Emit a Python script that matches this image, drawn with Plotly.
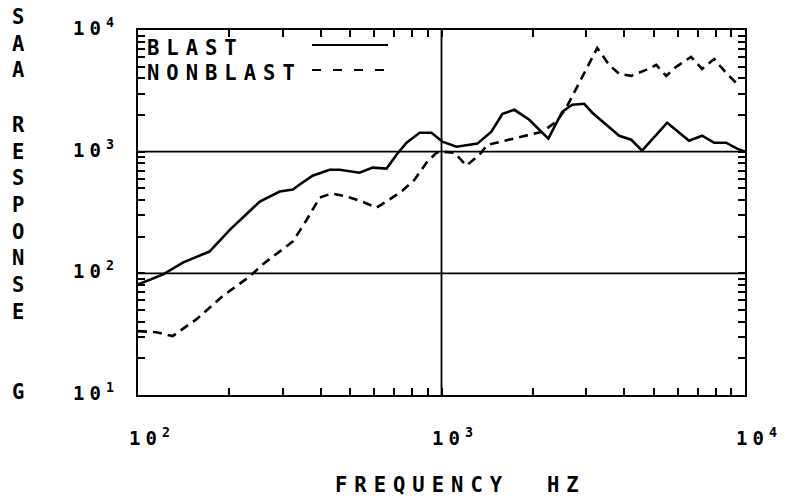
import math
import plotly.graph_objects as go

# ---- data ----
blast_f = [100, 121, 141, 172, 201, 252, 293, 324, 341, 376,
           428, 462, 537, 593, 659, 711, 767, 847, 927, 1007,
           1120, 1313, 1460, 1588, 1738, 1946, 2249, 2500, 2697, 2953,
           3140, 3570, 3850, 4220, 4580, 5540, 6540, 7220, 7910, 8660,
           9420, 10000]
blast_v = [81, 98, 123, 151, 229, 389, 470, 489, 537, 635,
           711, 711, 672, 740, 726, 944, 1185, 1432, 1432, 1208,
           1099, 1164, 1460, 2048, 2208, 1828, 1279, 2128, 2429, 2474,
           2090, 1574, 1352, 1253, 1020, 1730, 1230, 1352, 1185, 1185,
           1060, 1000]

nonblast_f = [100, 115, 130, 156, 190, 233, 258, 324, 360, 397,
              435, 487, 537, 611, 675, 744, 815, 893, 963, 1000,
              1104, 1208, 1334, 1416, 1517, 2148, 2389, 2577, 3260, 3570,
              3850, 4220, 4720, 5100, 5500, 5930, 6640, 7220, 7910, 8660,
              9340]
nonblast_v = [33.5, 32.8, 30.5, 42, 65, 94, 119, 183, 277, 420,
              453, 428, 396, 347, 405, 479, 589, 813, 981, 1000,
              981, 767, 944, 1140, 1185, 1460, 1762, 2297, 7110, 5160,
              4360, 4200, 4700, 5160, 4200, 4980, 6010, 4790, 5780, 4450,
              3680]

x_decades = [100, 1000, 10000]
x_exponents = ["2", "3", "4"]
y_decades = [10, 100, 1000, 10000]
y_exponents = ["1", "2", "3", "4"]
x_grid = [1000]
y_grid = [100, 1000]

series_names = ["BLAST", "NONBLAST"]

# ---- layout geometry ----
W, H = 789, 499
L, R, T, B = 138, 44, 30, 104
PW, PH = W - L - R, H - T - B


def px(x):
    return (x - L) / PW


def py(y):
    return (H - B - y) / PH


FONT = "DejaVu Sans Mono"
LS = "letter-spacing:7px"


def power_label(e):
    return f"<span style='letter-spacing:5px'>10</span><sup>{e}</sup>"


def tick_positions(decades):
    vals = []
    for i, d in enumerate(decades):
        vals.append(d)
        if i < len(decades) - 1:
            vals.extend(m * d for m in range(2, 10))
    return vals


fig = go.Figure()
fig.add_trace(go.Scatter(x=blast_f, y=blast_v, mode="lines", name=series_names[0],
                         line=dict(color="black", width=2.6)))
fig.add_trace(go.Scatter(x=nonblast_f, y=nonblast_v, mode="lines", name=series_names[1],
                         line=dict(color="black", width=2.6, dash="9px,6px")))

common = dict(
    type="log", showline=True, linecolor="black", linewidth=2.2, mirror="allticks",
    showgrid=False, zeroline=False, showticklabels=False,
    ticks="inside", ticklen=7, tickwidth=1.8, tickcolor="black",
    tickmode="array", layer="above traces",
)
fig.update_layout(
    xaxis=dict(range=[2, 4], tickvals=tick_positions(x_decades), **common),
    yaxis=dict(range=[1, 4], tickvals=tick_positions(y_decades), **common),
)

tickfont = dict(family=FONT, size=19, color="black", weight="bold")
big = dict(family=FONT, size=20.5, color="black", weight="bold")
ann = []
# tick labels placed through the axes' (log) scales
for d, e in zip(x_decades, x_exponents):
    ann.append(dict(text=power_label(e), x=math.log10(d), xref="x", y=py(437), yref="paper",
                    xanchor="center", yanchor="middle", xshift=11, showarrow=False,
                    font=tickfont))
for d, e in zip(y_decades, y_exponents):
    ann.append(dict(text=power_label(e), x=px(116), xref="paper", y=math.log10(d), yref="y",
                    xanchor="right", yanchor="middle", yshift=3, showarrow=False,
                    font=tickfont))
# stacked y-axis title
for txt, yc in [("S<br>A<br>A", 43.5),
                ("R<br>E<br>S<br>P<br>O<br>N<br>S<br>E", 218.5),
                ("G", 392)]:
    ann.append(dict(text=txt, x=px(18), y=py(yc), xref="paper", yref="paper",
                    xanchor="center", yanchor="middle", showarrow=False, font=big))
# x-axis title
ann.append(dict(text=f"<span style='{LS}'>FREQUENCY</span>", x=px(333), y=py(485),
                xref="paper", yref="paper", xanchor="left", yanchor="middle",
                showarrow=False, font=big))
ann.append(dict(text=f"<span style='{LS}'>HZ</span>", x=px(545), y=py(485),
                xref="paper", yref="paper", xanchor="left", yanchor="middle",
                showarrow=False, font=big))
# legend text
for name, yc in zip(series_names, [48, 73]):
    ann.append(dict(text=f"<span style='{LS}'>{name}</span>", x=px(145), y=py(yc),
                    xref="paper", yref="paper", xanchor="left", yanchor="middle",
                    showarrow=False, font=big))

shapes = []
# decade grid lines through the axes' own scales
for g in x_grid:
    shapes.append(dict(type="line", xref="x", yref="paper", x0=g, x1=g, y0=0, y1=1,
                       line=dict(color="black", width=1.8), layer="below"))
for g in y_grid:
    shapes.append(dict(type="line", xref="paper", yref="y", x0=0, x1=1, y0=g, y1=g,
                       line=dict(color="black", width=1.8), layer="below"))
# legend samples
shapes.append(dict(type="line", xref="paper", yref="paper", x0=px(312), x1=px(388),
                   y0=py(45), y1=py(45), line=dict(color="black", width=2)))
shapes.append(dict(type="line", xref="paper", yref="paper", x0=px(312), x1=px(388),
                   y0=py(70), y1=py(70), line=dict(color="black", width=2, dash="9px,12px")))

fig.update_layout(
    width=W, height=H, margin=dict(l=L, r=R, t=T, b=B),
    paper_bgcolor="white", plot_bgcolor="white", showlegend=False,
    annotations=ann, shapes=shapes,
)

fig.write_html("out.html")
